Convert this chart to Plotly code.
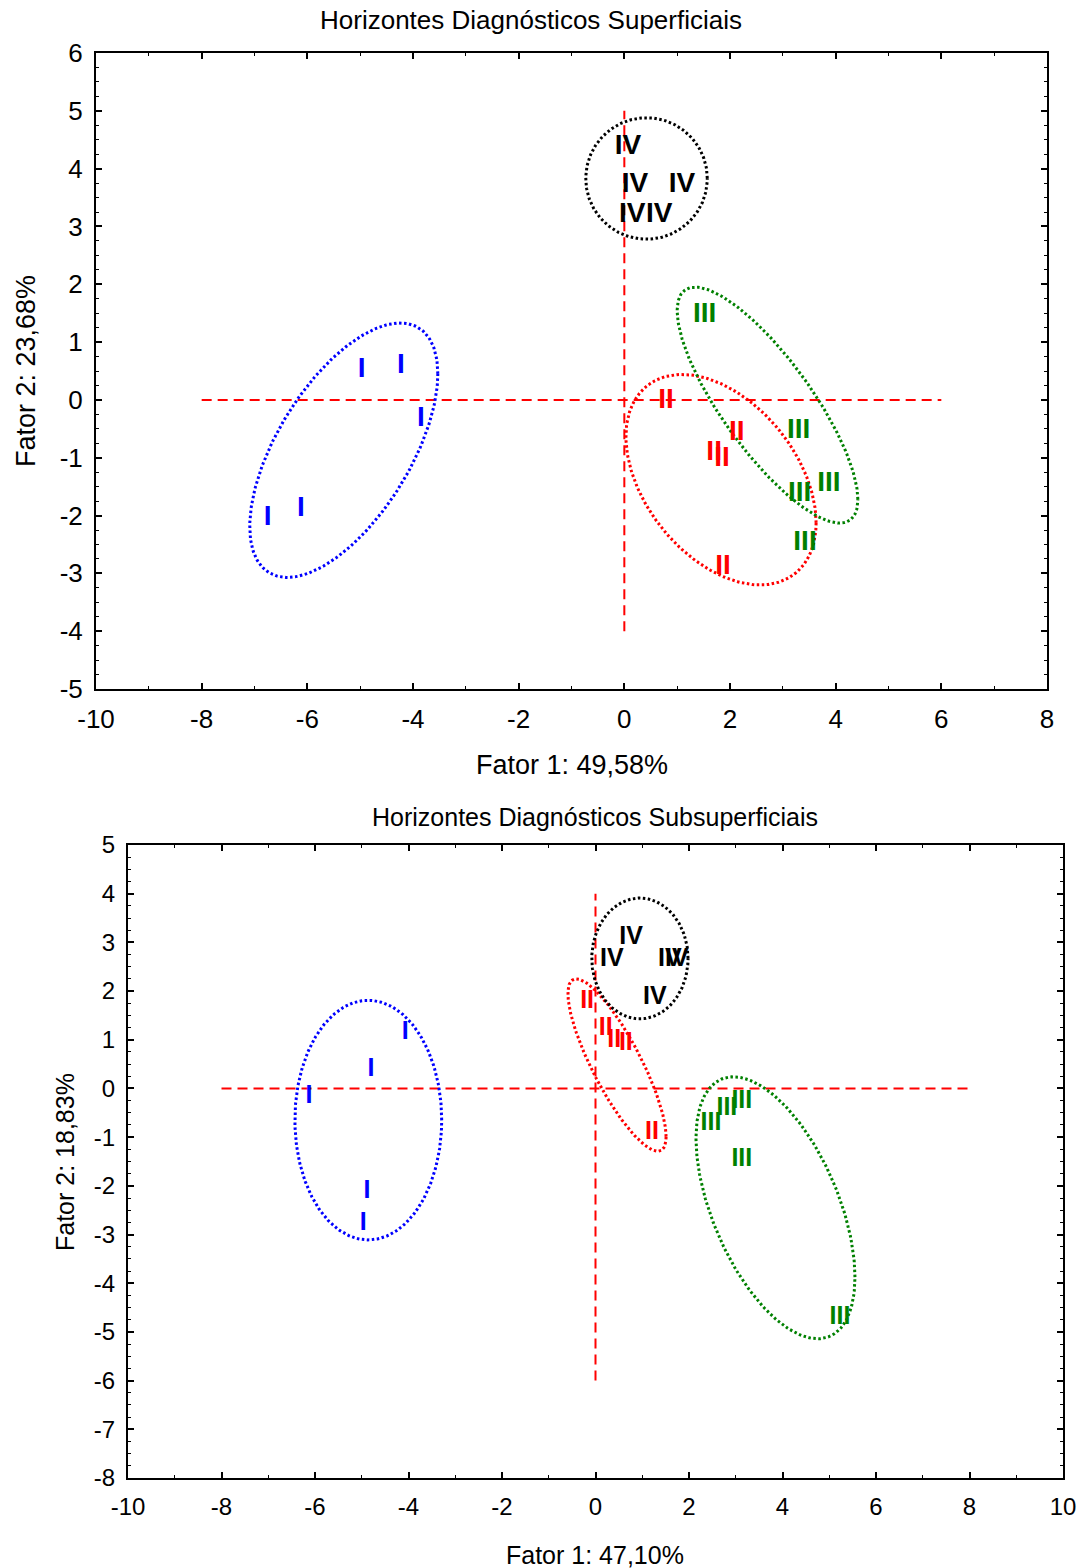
import numpy as np
import plotly.graph_objects as go

# ---------- Factor scores: surface diagnostic horizons (plot 1) ----------
sup_I_x = [-4.97, -4.23, -3.85, -6.75, -6.12]
sup_I_y = [0.52, 0.59, -0.33, -2.04, -1.89]
sup_II_x = [0.79, 2.13, 1.70, 1.85, 1.87]
sup_II_y = [-0.02, -0.57, -0.92, -1.02, -2.89]
sup_III_x = [1.52, 3.30, 3.87, 3.32, 3.42]
sup_III_y = [1.47, -0.54, -1.45, -1.63, -2.47]
sup_IV_x = [0.07, 0.20, 1.09, 0.15, 0.66]
sup_IV_y = [4.38, 3.72, 3.72, 3.20, 3.20]

# ---------- Factor scores: subsurface diagnostic horizons (plot 2) ----------
sub_I_x = [-4.07, -4.80, -6.13, -4.89, -4.97]
sub_I_y = [1.14, 0.38, -0.17, -2.12, -2.77]
sub_II_x = [-0.18, 0.22, 0.40, 0.65, 1.21]
sub_II_y = [1.78, 1.22, 0.98, 0.91, -0.91]
sub_III_x = [2.47, 2.81, 3.13, 3.13, 5.23]
sub_III_y = [-0.73, -0.42, -0.28, -1.47, -4.71]
sub_IV_x = [0.76, 0.35, 1.59, 1.74, 1.27]
sub_IV_y = [3.09, 2.64, 2.64, 2.64, 1.86]

# group ellipses: centre x, centre y, sd x, sd y, correlation
ell_sup_I = [-5.31, -0.87, 1.78, 2.20, 0.60]
ell_sup_II = [1.83, -1.38, 1.80, 1.82, -0.41]
ell_sup_III = [2.71, -0.09, 1.71, 2.04, -0.80]
ell_sup_IV = [0.42, 3.83, 1.15, 1.05, 0.0]
ell_sub_I = [-4.86, -0.65, 1.57, 2.46, 0.0]
ell_sub_II = [0.46, 0.48, 1.05, 1.77, -0.83]
ell_sub_III = [3.85, -2.45, 1.70, 2.69, -0.53]
ell_sub_IV = [0.95, 2.67, 1.03, 1.24, 0.0]

# reference axes through the origin
sup_hline_x = [-8, 6]
sup_vline_y = [-4, 5]
sub_hline_x = [-8, 8]
sub_vline_y = [-6, 4]

# tick values
sup_xticks = [-10, -8, -6, -4, -2, 0, 2, 4, 6, 8]
sup_yticks = [-5, -4, -3, -2, -1, 0, 1, 2, 3, 4, 5, 6]
sub_xticks = [-10, -8, -6, -4, -2, 0, 2, 4, 6, 8, 10]
sub_yticks = [-8, -7, -6, -5, -4, -3, -2, -1, 0, 1, 2, 3, 4, 5]

BLUE, RED, GREEN, BLACK = "#0000FF", "#FF0000", "#008000", "#000000"
FONT = "Liberation Sans, Arial, sans-serif"

fig = go.Figure()


def ellipse(p, color, xa, ya):
    cx, cy, sx, sy, r = p
    t = np.linspace(0, 2 * np.pi, 240)
    x = cx + sx * np.cos(t)
    y = cy + sy * (r * np.cos(t) + np.sqrt(1 - r * r) * np.sin(t))
    fig.add_trace(go.Scatter(x=x, y=y, mode="lines", xaxis=xa, yaxis=ya,
                             line=dict(color=color, width=3, dash="2.5px,2.5px"),
                             hoverinfo="skip", showlegend=False))


def labels(xs, ys, txt, color, size, xa, ya):
    fig.add_trace(go.Scatter(x=xs, y=ys, mode="text", text=[txt] * len(xs),
                             xaxis=xa, yaxis=ya, textposition="middle center",
                             textfont=dict(family=FONT, size=size, color=color,
                                           weight="bold"),
                             showlegend=False))


def cross(hx, vy, xa, ya):
    fig.add_trace(go.Scatter(x=hx, y=[0, 0], mode="lines", xaxis=xa, yaxis=ya,
                             line=dict(color=RED, width=2, dash="10px,6px"),
                             hoverinfo="skip", showlegend=False))
    fig.add_trace(go.Scatter(x=[0, 0], y=vy, mode="lines", xaxis=xa, yaxis=ya,
                             line=dict(color=RED, width=2, dash="10px,6px"),
                             hoverinfo="skip", showlegend=False))


# plot 1
cross(sup_hline_x, sup_vline_y, "x", "y")
ellipse(ell_sup_I, BLUE, "x", "y")
ellipse(ell_sup_II, RED, "x", "y")
ellipse(ell_sup_III, GREEN, "x", "y")
ellipse(ell_sup_IV, BLACK, "x", "y")
labels(sup_I_x, sup_I_y, "I", BLUE, 28, "x", "y")
labels(sup_II_x, sup_II_y, "II", RED, 28, "x", "y")
labels(sup_III_x, sup_III_y, "III", GREEN, 28, "x", "y")
labels(sup_IV_x, sup_IV_y, "IV", BLACK, 28, "x", "y")

# plot 2
cross(sub_hline_x, sub_vline_y, "x2", "y2")
ellipse(ell_sub_I, BLUE, "x2", "y2")
ellipse(ell_sub_II, RED, "x2", "y2")
ellipse(ell_sub_III, GREEN, "x2", "y2")
ellipse(ell_sub_IV, BLACK, "x2", "y2")
labels(sub_I_x, sub_I_y, "I", BLUE, 25, "x2", "y2")
labels(sub_II_x, sub_II_y, "II", RED, 25, "x2", "y2")
labels(sub_III_x, sub_III_y, "III", GREEN, 25, "x2", "y2")
labels(sub_IV_x, sub_IV_y, "IV", BLACK, 25, "x2", "y2")


def axis(rng, ticks, minor, dom, anchor, size):
    return dict(range=rng, tickmode="array", tickvals=ticks,
                ticktext=[str(v) for v in ticks], domain=dom, anchor=anchor,
                automargin=False,
                showgrid=False, zeroline=False, showline=True, linewidth=2,
                linecolor="black", mirror="allticks", ticks="inside", ticklen=6,
                tickwidth=1.5, tickcolor="black", ticklabelstandoff=6,
                tickfont=dict(family=FONT, size=size, color="black"),
                minor=dict(dtick=minor, tick0=rng[0], ticks="inside", ticklen=3,
                           tickwidth=1, tickcolor="black", showgrid=False))


W, H = 1082, 1568
fig.update_layout(
    width=W, height=H, margin=dict(l=0, r=0, t=0, b=0),
    paper_bgcolor="white", plot_bgcolor="white",
    xaxis=axis([-10, 8], sup_xticks, 1, [96 / W, 1047 / W], "y", 26),
    yaxis=axis([-5, 6], sup_yticks, 0.25, [1 - 689 / H, 1 - 53 / H], "x", 26),
    xaxis2=axis([-10, 10], sub_xticks, 1, [128 / W, 1063 / W], "y2", 24),
    yaxis2=axis([-8, 5], sub_yticks, 0.25, [1 - 1478 / H, 1 - 845 / H], "x2", 24),
)


def note(text, x, y, size, angle=0):
    fig.add_annotation(text=text, x=x / W, y=1 - y / H, xref="paper", yref="paper",
                       showarrow=False, textangle=angle, xanchor="center",
                       yanchor="middle", font=dict(family=FONT, size=size, color="black"))


note("Horizontes Diagnósticos Superficiais", 531, 20, 26)
note("Fator 1: 49,58%", 572, 765, 27)
note("Fator 2: 23,68%", 26, 371, 27, -90)
note("Horizontes Diagnósticos Subsuperficiais", 595, 817, 25)
note("Fator 1: 47,10%", 595, 1555, 25)
note("Fator 2: 18,83%", 65, 1162, 25, -90)

fig.write_html("out.html")
